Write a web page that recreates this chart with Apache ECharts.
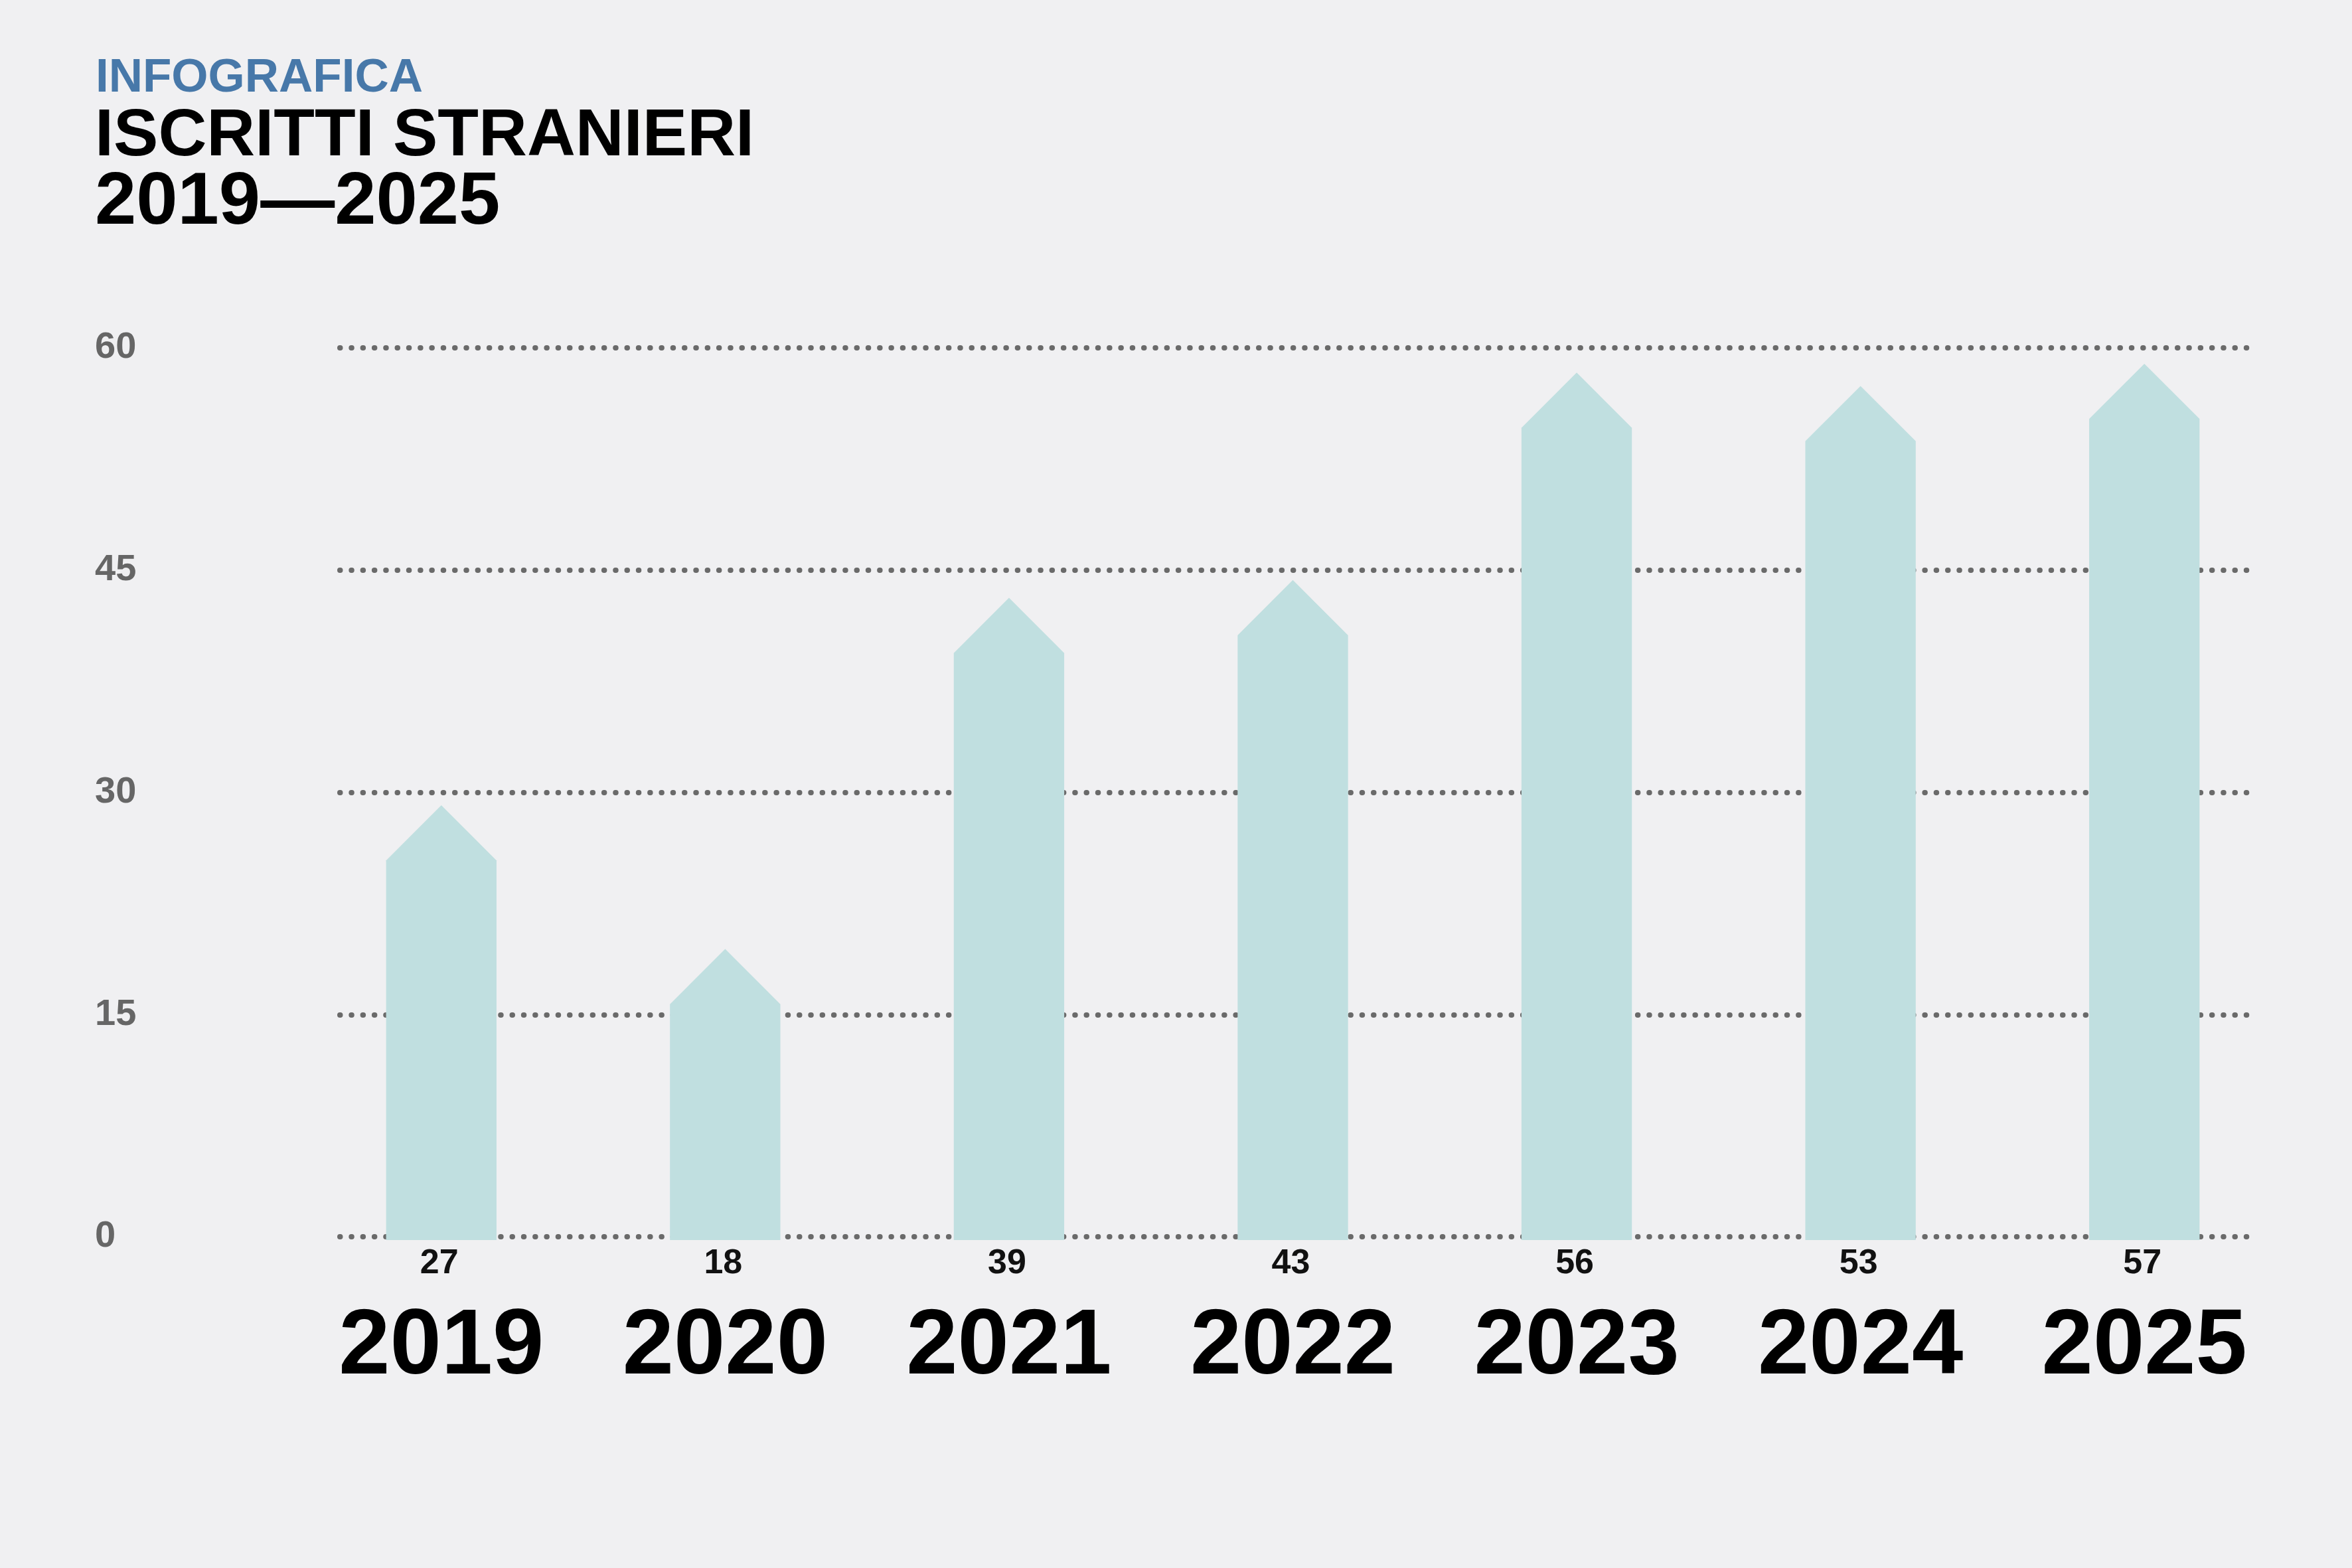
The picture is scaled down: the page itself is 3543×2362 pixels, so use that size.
<!DOCTYPE html>
<html>
<head>
<meta charset="utf-8">
<script src="https://cdn.jsdelivr.net/npm/echarts@6/dist/echarts.min.js"></script>
<style>
  html, body { margin: 0; padding: 0; background: #f0f0f2; }
  #chart { width: 3543px; height: 2362px; }
</style>
</head>
<body>
<div id="chart"></div>
<script>
// ---- data ----
const years = ['2019', '2020', '2021', '2022', '2023', '2024', '2025'];
const values = [27, 18, 39, 43, 56, 53, 57];
// height of each bar body (up to the shoulder of its roof) as drawn against the axis
const drawnHeights = [25.4, 15.7, 39.4, 40.6, 54.6, 53.7, 55.2];
const yMin = 0, yMax = 60, yStep = 15;
const kicker = 'INFOGRAFICA';
const titleLine1 = 'ISCRITTI STRANIERI';
const titleLine2 = '2019\u20142025';

// ---- styles ----
const FONT = '"Liberation Sans", Arial, Helvetica, sans-serif';
const BAR = '#c0dfe0';
const DOT = '#6a6a6a';

const chart = echarts.init(document.getElementById('chart'), null, { renderer: 'canvas' });

const option = {
  backgroundColor: '#f0f0f2',
  animation: false,
  graphic: [
    { type: 'text', x: 144, y: 118, style: { text: kicker, font: 'bold 71px ' + FONT, fill: '#4778a9', align: 'left', verticalAlign: 'middle' } },
    { type: 'text', x: 143, y: 206, style: { text: titleLine1, font: 'bold 101px ' + FONT, fill: '#000', align: 'left', verticalAlign: 'middle' } },
    { type: 'text', x: 143, y: 306, style: { text: titleLine2, font: 'bold 112px ' + FONT, fill: '#000', align: 'left', verticalAlign: 'middle' } }
  ],
  grid: [
    { left: 512, right: 143, top: 524, bottom: 499 },
    { left: 451, right: 99, top: 524, bottom: 499 }
  ],
  xAxis: [
    { gridIndex: 0, type: 'value', show: false, min: 0, max: 1 },
    {
      gridIndex: 1, type: 'category', data: years,
      axisLine: { show: false }, axisTick: { show: false },
      axisLabel: {
        margin: 168, verticalAlign: 'middle',
        fontFamily: FONT, fontWeight: 'bold', fontSize: 139, color: '#000'
      }
    }
  ],
  yAxis: [
    {
      gridIndex: 0, type: 'value', min: yMin, max: yMax, interval: yStep,
      axisLine: { show: false }, axisTick: { show: false },
      axisLabel: {
        align: 'left', margin: 369,
        fontFamily: FONT, fontWeight: 'bold', fontSize: 56, color: '#666'
      },
      splitLine: {
        show: true,
        lineStyle: { color: DOT, width: 8, type: [0.5, 16.8], cap: 'round' }
      }
    },
    { gridIndex: 1, type: 'value', min: yMin, max: yMax, interval: yStep, show: false, splitLine: { show: false } }
  ],
  series: [{
    type: 'custom',
    xAxisIndex: 1, yAxisIndex: 1,
    clip: false,
    data: years.map((y, i) => [i, drawnHeights[i], values[i]]),
    renderItem: function (params, api) {
      const i = api.value(0);
      const h = api.value(1);
      const band = api.size([1, 0])[0];
      const half = band * 0.389 / 2;
      const base = api.coord([i, 0]);
      const top = api.coord([i, h]);
      const cx = base[0];
      const bottom = base[1] + 5;
      return {
        type: 'group',
        children: [
          {
            type: 'polygon',
            shape: { points: [[cx - half, bottom], [cx - half, top[1]], [cx, top[1] - half], [cx + half, top[1]], [cx + half, bottom]] },
            style: { fill: BAR }
          },
          {
            type: 'text',
            x: cx - 3, y: base[1] + 41,
            style: { text: String(api.value(2)), font: 'bold 52px ' + FONT, fill: '#111', align: 'center', verticalAlign: 'middle' }
          }
        ]
      };
    }
  }]
};

chart.setOption(option);
</script>
</body>
</html>
